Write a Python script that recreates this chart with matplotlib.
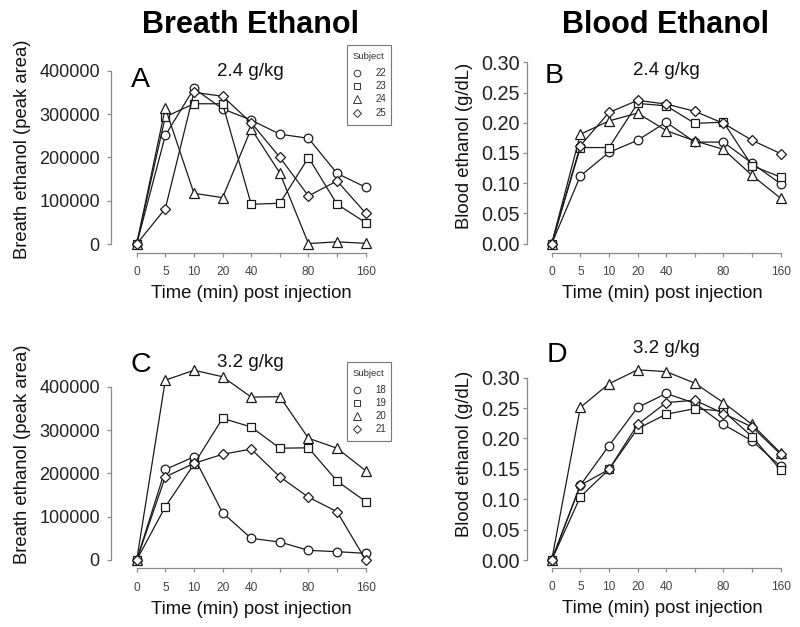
import numpy as np
import matplotlib
matplotlib.use("Agg")
import matplotlib.pyplot as plt
from matplotlib.lines import Line2D
from matplotlib.patches import Rectangle

plt.rcParams['font.family'] = ['Liberation Sans', 'DejaVu Sans']

# ---------------- data ----------------
times = [0, 5, 10, 20, 40, 60, 80, 120, 160]
xtick_labels = ['0', '5', '10', '20', '40', '', '80', '', '160']

subjects_low = ['22', '23', '24', '25']
subjects_high = ['18', '19', '20', '21']

breath_low = {
    '22': [0, 250500, 359000, 312000, 286000, 253500, 244000, 163000, 131000],
    '23': [0, 293600, 323700, 323700, 91700, 94000, 199600, 91700, 49300],
    '24': [0, 314000, 117000, 107000, 266000, 164000, 1000, 5000, 1500],
    '25': [0, 81700, 350000, 341000, 280000, 200000, 111000, 145600, 71000],
}
blood_low = {
    '22': [0, 0.112, 0.151, 0.171, 0.201, 0.168, 0.168, 0.133, 0.099],
    '23': [0, 0.159, 0.159, 0.232, 0.228, 0.199, 0.201, 0.129, 0.110],
    '24': [0, 0.181, 0.203, 0.216, 0.187, 0.170, 0.156, 0.113, 0.075],
    '25': [0, 0.162, 0.217, 0.237, 0.231, 0.219, 0.199, 0.171, 0.149],
}
breath_high = {
    '18': [0, 209000, 238000, 109000, 50000, 41500, 22300, 19200, 15400],
    '19': [0, 123000, 221000, 327000, 307000, 258000, 259000, 182000, 135000],
    '20': [0, 415000, 438000, 423000, 376000, 377000, 281000, 258000, 206000],
    '21': [0, 192000, 223000, 244000, 256000, 192000, 145000, 111500, 0],
}
blood_high = {
    '18': [0, 0.123, 0.188, 0.251, 0.274, 0.258, 0.223, 0.196, 0.154],
    '19': [0, 0.104, 0.149, 0.216, 0.240, 0.249, 0.245, 0.203, 0.148],
    '20': [0, 0.251, 0.290, 0.313, 0.310, 0.291, 0.259, 0.223, 0.176],
    '21': [0, 0.123, 0.149, 0.223, 0.259, 0.263, 0.241, 0.219, 0.174],
}

breath_yticks = [0, 100000, 200000, 300000, 400000]
blood_yticks = [0.00, 0.05, 0.10, 0.15, 0.20, 0.25, 0.30]

# ---------------- style ----------------
W, H = 800, 627
fig = plt.figure(figsize=(W / 100, H / 100), dpi=100)

markers = ['o', 's', '^', 'D']
msizes = [6.2, 5.4, 7.4, 5.0]
AXC = '#8a8a8a'


def fx(x):
    return x / W


def fy(y):
    return 1 - y / H


def make_axes(left, right, top, bottom, xcal, ycal):
    ax = fig.add_axes([fx(left), fy(bottom), (right - left) / W, (bottom - top) / H])
    (p0, p8) = xcal
    sx = (p8 - p0) / 8.0
    ax.set_xlim((left - p0) / sx, (right - p0) / sx)
    (v0, py0), (v1, py1) = ycal
    sy = (py0 - py1) / (v1 - v0)
    ax.set_ylim(v0 - (bottom - py0) / sy, v0 + (py0 - top) / sy)
    for s in ['top', 'right']:
        ax.spines[s].set_visible(False)
    for s in ['left', 'bottom']:
        ax.spines[s].set_color(AXC)
        ax.spines[s].set_linewidth(0.9)
    ax.patch.set_alpha(0)
    return ax


def draw_panel(ax, data, subjects, yticks, ylabels, ylab, ytsize, ypad, ylabpad):
    x = np.arange(len(times))
    for i, s in enumerate(subjects):
        ax.plot(x, data[s], color='#1a1a1a', lw=0.9, marker=markers[i],
                ms=msizes[i], mfc='white', mec='#1a1a1a', mew=0.9, zorder=3 + i,
                clip_on=False)
    ax.set_xticks(x)
    ax.set_xticklabels(xtick_labels, fontsize=8.6, color='#444444')
    ax.set_yticks(yticks)
    ax.set_yticklabels(ylabels, fontsize=ytsize, color='#222222')
    ax.tick_params(axis='x', length=3.2, width=0.9, color=AXC, pad=6.5)
    ax.tick_params(axis='y', length=3.2, width=0.9, color=AXC, pad=ypad)
    ax.spines['bottom'].set_bounds(0, len(times) - 1)
    ax.spines['left'].set_bounds(yticks[0], yticks[-1])
    ax.set_xlabel('Time (min) post injection', fontsize=13.3, color='#111111', labelpad=5)
    ax.set_ylabel(ylab, fontsize=13.3, color='#111111', labelpad=ylabpad)


def legend_box(top, subjects):
    left, right = 346.7, 391.0
    fig.add_artist(Rectangle((fx(left), fy(top + 79)), (right - left) / W, 79 / H,
                             transform=fig.transFigure, fill=True, facecolor='white',
                             edgecolor='#777777', lw=0.8, zorder=10))
    fig.text(fx((left + right) / 2), fy(top + 11), 'Subject', fontsize=6.8,
             color='#333333', ha='center', va='center', zorder=11)
    offs = [27.7, 40.2, 53.4, 67.0]
    lsz = [4.8, 4.2, 5.6, 3.8]
    for i, s in enumerate(subjects):
        fig.add_artist(Line2D([fx(356.7)], [fy(top + offs[i])], transform=fig.transFigure,
                              marker=markers[i], ms=lsz[i], mfc='white', mec='#333333',
                              mew=0.7, ls='none', zorder=11))
        fig.text(fx(380.5), fy(top + offs[i]), s, fontsize=7, color='#333333',
                 ha='center', va='center', zorder=11)


# Panel A
axA = make_axes(110.5, 392, 45, 252.7, (136.7, 365.7), ((0, 244.0), (400000, 70.7)))
draw_panel(axA, breath_low, subjects_low, breath_yticks, [str(v) for v in breath_yticks],
           'Breath ethanol (peak area)', 13.0, 4.5, 6)
# Panel B
axB = make_axes(526.7, 798, 40, 252.5, (551.7, 780.7), ((0, 243.7), (0.30, 62.3)))
draw_panel(axB, blood_low, subjects_low, blood_yticks, ['%.2f' % v for v in blood_yticks],
           'Blood ethanol (g/dL)', 14.3, 2.0, 6)
# Panel C
axC = make_axes(110.5, 392, 340, 568.3, (136.7, 365.7), ((0, 560.0), (400000, 386.7)))
draw_panel(axC, breath_high, subjects_high, breath_yticks, [str(v) for v in breath_yticks],
           'Breath ethanol (peak area)', 13.0, 4.5, 6)
# Panel D
axD = make_axes(526.7, 798, 340, 567.9, (551.7, 780.7), ((0, 560.0), (0.30, 377.7)))
draw_panel(axD, blood_high, subjects_high, blood_yticks, ['%.2f' % v for v in blood_yticks],
           'Blood ethanol (g/dL)', 14.3, 2.0, 6)

# headers
fig.text(fx(251), fy(33), 'Breath Ethanol', fontsize=22, fontweight='bold',
         ha='center', va='baseline', color='black')
fig.text(fx(666), fy(33), 'Blood Ethanol', fontsize=22, fontweight='bold',
         ha='center', va='baseline', color='black')

# panel letters
for lab, x, y in [('A', 131, 86.7), ('B', 545, 82.7), ('C', 131, 372.5), ('D', 547, 361.7)]:
    fig.text(fx(x), fy(y), lab, fontsize=20.5, ha='left', va='baseline', color='black')

# dose labels
for lab, x, y in [('2.4 g/kg', 250, 76), ('2.4 g/kg', 666, 75),
                  ('3.2 g/kg', 250, 367), ('3.2 g/kg', 666, 353)]:
    fig.text(fx(x), fy(y), lab, fontsize=13.5, ha='center', va='baseline', color='#111111')

legend_box(45.5, subjects_low)
legend_box(362.3, subjects_high)

fig.savefig('out.png', dpi=100)
